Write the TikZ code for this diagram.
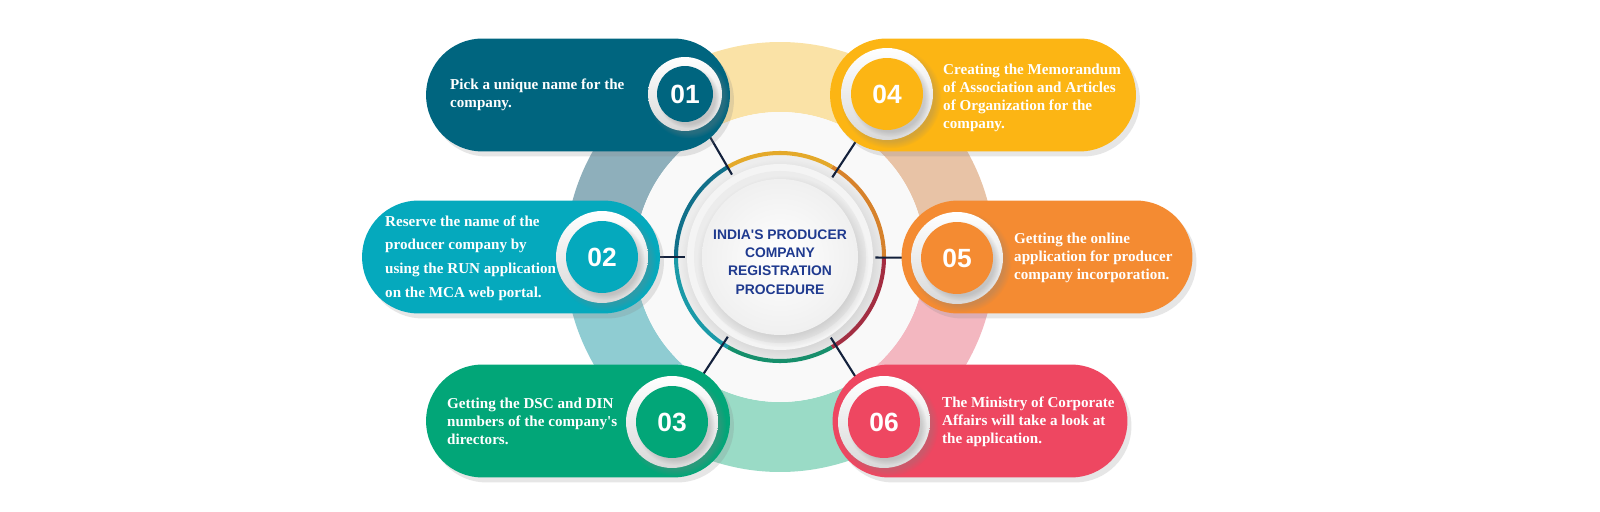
\documentclass[tikz,border=0pt]{standalone}
\usepackage{fontspec}
\setmainfont{Liberation Serif}
\setsansfont{Liberation Sans}
\usepackage{tikz}
\usetikzlibrary{shapes.misc}
\usetikzlibrary{shadows}
\definecolor{stepone}{HTML}{00657F}
\definecolor{steptwo}{HTML}{05A9BD}
\definecolor{stepthree}{HTML}{02A678}
\definecolor{stepfour}{HTML}{FCB514}
\definecolor{stepfive}{HTML}{F48B32}
\definecolor{stepsix}{HTML}{EE4761}
\definecolor{ringone}{HTML}{8EAFBB}
\definecolor{ringtwo}{HTML}{8FCCD2}
\definecolor{ringthree}{HTML}{9ADBC6}
\definecolor{ringfour}{HTML}{FAE2A6}
\definecolor{ringfive}{HTML}{E8C3A6}
\definecolor{ringsix}{HTML}{F3B7C0}
\definecolor{arcone}{HTML}{11708A}
\definecolor{arctwo}{HTML}{1A9AA8}
\definecolor{arcthree}{HTML}{12906B}
\definecolor{arcfour}{HTML}{E4A92A}
\definecolor{arcfive}{HTML}{D7822B}
\definecolor{arcsix}{HTML}{A52A3F}
\definecolor{navy}{HTML}{13213C}
\definecolor{titleblue}{HTML}{1F3A8F}

\begin{document}
\begin{tikzpicture}[x=0.02cm, y=0.02cm,
    pill/.style={rounded rectangle, minimum height=2.26cm, inner sep=0pt,
      drop shadow={shadow xshift=0.8mm, shadow yshift=-1mm, opacity=.2}},
    rim/.style={circle, inner sep=0pt, top color=white, bottom color=gray!30,
      circular drop shadow={shadow xshift=0.7mm, shadow yshift=-0.7mm, opacity=.3}},
    num/.style={circle, inner sep=0pt, text=white,
      font=\sffamily\bfseries\fontsize{15}{15}\selectfont,
      circular drop shadow={shadow xshift=0.6mm, shadow yshift=-0.6mm, opacity=.3}},
    note/.style={anchor=west, align=left, text=white,
      font=\bfseries\fontsize{8.6}{10.2}\selectfont},
    tick/.style={draw=navy, line width=1.2pt}]
    \useasboundingbox (0,0) rectangle (1600,511);
    \node[circle, minimum size=3.8cm, inner sep=0pt] (H) at (780,254) {};
    \coordinate (D1) at (685,417);
    \coordinate (D2) at (602,254);
    \coordinate (D3) at (672,89);
    \coordinate (D4) at (887,417);
    \coordinate (D5) at (957,253);
    \coordinate (D6) at (884,89);
    % big ring behind
    \fill[ringfive] (H) ++(0:215) arc[start angle=0, end angle=60, radius=215] -- ++(60:-70) arc[start angle=60, end angle=0, radius=145] -- cycle;
    \fill[ringfour] (H) ++(60:215) arc[start angle=60, end angle=120, radius=215] -- ++(120:-70) arc[start angle=120, end angle=60, radius=145] -- cycle;
    \fill[ringone] (H) ++(120:215) arc[start angle=120, end angle=180, radius=215] -- ++(180:-70) arc[start angle=180, end angle=120, radius=145] -- cycle;
    \fill[ringtwo] (H) ++(180:215) arc[start angle=180, end angle=240, radius=215] -- ++(240:-70) arc[start angle=240, end angle=180, radius=145] -- cycle;
    \fill[ringthree] (H) ++(240:215) arc[start angle=240, end angle=300, radius=215] -- ++(300:-70) arc[start angle=300, end angle=240, radius=145] -- cycle;
    \fill[ringsix] (H) ++(300:215) arc[start angle=300, end angle=360, radius=215] -- ++(360:-70) arc[start angle=360, end angle=300, radius=145] -- cycle;
    % hub
    \fill[gray!5] (H) circle[radius=145];
    \fill[gray!14] (H) circle[radius=102];
    \draw[arcfive, line width=2.3pt] (H) ++(0:104) arc[start angle=0, end angle=60, radius=104];
    \draw[arcfour, line width=2.3pt] (H) ++(60:104) arc[start angle=60, end angle=120, radius=104];
    \draw[arcone, line width=2.3pt] (H) ++(120:104) arc[start angle=120, end angle=180, radius=104];
    \draw[arctwo, line width=2.3pt] (H) ++(180:104) arc[start angle=180, end angle=240, radius=104];
    \draw[arcthree, line width=2.3pt] (H) ++(240:104) arc[start angle=240, end angle=300, radius=104];
    \draw[arcsix, line width=2.3pt] (H) ++(300:104) arc[start angle=300, end angle=360, radius=104];
    \fill[gray!9, circular drop shadow={shadow xshift=0.5mm, shadow yshift=-0.8mm, opacity=.2}] (H) circle[radius=93];
    \fill[gray!15] (H) circle[radius=86];
    \shade[inner color=white, outer color=gray!12, circular drop shadow={shadow xshift=0.5mm, shadow yshift=-0.8mm, opacity=.25}] (H) circle[radius=78];
    \node[align=center, text=titleblue, font=\sffamily\bfseries\fontsize{7.9}{10.4}\selectfont] (T0) at (780,249) {INDIA\textquotesingle S PRODUCER\\COMPANY\\REGISTRATION\\PROCEDURE};
    % ticks to the steps
    \path[tick] (H) edge (D1);
    \path[tick] (H) edge (D2);
    \path[tick] (H) edge (D3);
    \path[tick] (H) edge (D4);
    \path[tick] (H) edge (D5);
    \path[tick] (H) edge (D6);
    % steps
    \node[pill, fill=stepone, minimum width=6.08cm] (P1) at (578,416) {};
    \node[pill, fill=steptwo, minimum width=5.96cm] (P2) at (511,254) {};
    \node[pill, fill=stepthree, minimum width=6.08cm] (P3) at (578,90) {};
    \node[pill, fill=stepfour, minimum width=6.12cm] (P4) at (983,416) {};
    \node[pill, fill=stepfive, minimum width=5.82cm] (P5) at (1047,254) {};
    \node[pill, fill=stepsix, minimum width=5.90cm] (P6) at (980,90) {};
    \node[rim, minimum size=1.48cm] (W1) at (D1) {};
    \node[rim, minimum size=1.84cm] (W2) at (D2) {};
    \node[rim, minimum size=1.84cm] (W3) at (D3) {};
    \node[rim, minimum size=1.84cm] (W4) at (D4) {};
    \node[rim, minimum size=1.84cm] (W5) at (D5) {};
    \node[rim, minimum size=1.84cm] (W6) at (D6) {};
    \node[num, fill=stepone, minimum size=1.12cm] (N1) at (D1) {01};
    \node[num, fill=steptwo, minimum size=1.44cm] (N2) at (D2) {02};
    \node[num, fill=stepthree, minimum size=1.44cm] (N3) at (D3) {03};
    \node[num, fill=stepfour, minimum size=1.44cm] (N4) at (D4) {04};
    \node[num, fill=stepfive, minimum size=1.44cm] (N5) at (D5) {05};
    \node[num, fill=stepsix, minimum size=1.44cm] (N6) at (D6) {06};
    \node[note] (T1) at (444,416) {Pick a unique name for the\\company.};
    \node[note, font=\bfseries\fontsize{8.6}{13.4}\selectfont] (T2) at (379,253) {Reserve the name of the\\producer company by\\using the RUN application\\on the MCA web portal.};
    \node[note] (T3) at (441,90) {Getting the DSC and DIN\\numbers of the company\textquotesingle s\\directors.};
    \node[note] (T4) at (937,413) {Creating the Memorandum\\of Association and Articles\\of Organization for the\\company.};
    \node[note] (T5) at (1008,253) {Getting the online\\application for producer\\company incorporation.};
    \node[note] (T6) at (936,89) {The Ministry of Corporate\\Affairs will take a look at\\the application.};
  \end{tikzpicture}
\end{document}
